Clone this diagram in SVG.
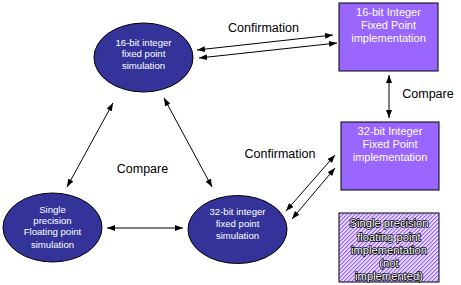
<svg xmlns="http://www.w3.org/2000/svg" width="461" height="285" viewBox="0 0 461 285">
<style>
.ell{fill:#333399;stroke:#000;stroke-width:1}
.box{fill:#9966ff;stroke:#000;stroke-width:1}
.et{font-family:"Liberation Sans",Arial,sans-serif;font-size:9.6px;fill:#fff;text-anchor:middle}
.bt{font-family:"Liberation Sans",Arial,sans-serif;font-size:11px;fill:#fff;text-anchor:middle}
.ht{font-family:"Liberation Sans",Arial,sans-serif;font-size:11.2px;fill:#fff;stroke:#000;stroke-width:1.6;stroke-linejoin:round;paint-order:stroke;text-anchor:middle}
.lbl{font-family:"Liberation Sans",Arial,sans-serif;font-size:12.5px;fill:#000;text-anchor:middle}
.conn line{stroke:#000;stroke-width:1;marker-start:url(#ah);marker-end:url(#ah)}
</style>
<defs>
<marker id="ah" viewBox="0 0 8 6" refX="8" refY="3" markerWidth="8" markerHeight="6" markerUnits="userSpaceOnUse" orient="auto-start-reverse">
<path d="M0,0 L8,3 L0,6 Z" fill="#000"/>
</marker>
<pattern id="hatch" patternUnits="userSpaceOnUse" width="2.83" height="4" patternTransform="rotate(45)">
<rect width="2.83" height="4" fill="#fff"/>
<rect width="1.42" height="4" fill="#9966ff"/>
</pattern>
</defs>
<rect width="461" height="285" fill="#fff"/>
<g class="conn" id="connectors">
<line x1="197" y1="50" x2="333" y2="35"/>
<line x1="199" y1="58" x2="337" y2="43"/>
<line x1="389" y1="75" x2="389" y2="118"/>
<line x1="286" y1="211" x2="335" y2="155"/>
<line x1="292" y1="219" x2="335" y2="168"/>
<line x1="113" y1="103" x2="67" y2="187"/>
<line x1="164" y1="98" x2="212" y2="187"/>
<line x1="107" y1="228" x2="183" y2="228"/>
</g>
<g id="labels">
<text class="lbl" x="263.5" y="31.5">Confirmation</text>
<text class="lbl" x="428" y="98">Compare</text>
<text class="lbl" x="280" y="158">Confirmation</text>
<text class="lbl" x="142.5" y="172.5">Compare</text>
</g>
<g id="sim16">
<ellipse class="ell" cx="143.5" cy="57.5" rx="49.5" ry="34.5"/>
<text class="et" x="143.5" y="46">16-bit integer</text>
<text class="et" x="143.5" y="57">fixed point</text>
<text class="et" x="143.5" y="68.5">simulation</text>
</g>
<g id="simfloat">
<ellipse class="ell" cx="52.5" cy="227.5" rx="49.5" ry="34.5"/>
<text class="et" x="52.5" y="212.5">Single</text>
<text class="et" x="52.5" y="223.5">precision</text>
<text class="et" x="52.5" y="234.5">Floating point</text>
<text class="et" x="52.5" y="247.5">simulation</text>
</g>
<g id="sim32">
<ellipse class="ell" cx="237.5" cy="229.5" rx="49.5" ry="34"/>
<text class="et" x="237.5" y="214.5">32-bit integer</text>
<text class="et" x="237.5" y="226.5">fixed point</text>
<text class="et" x="237.5" y="238.5">simulation</text>
</g>
<g id="impl16">
<rect class="box" x="339" y="3" width="99" height="68"/>
<text class="bt" x="388.5" y="16">16-bit Integer</text>
<text class="bt" x="388.5" y="28.5">Fixed Point</text>
<text class="bt" x="388.5" y="42">implementation</text>
</g>
<g id="impl32">
<rect class="box" x="341" y="122" width="98" height="68"/>
<text class="bt" x="390" y="134.5">32-bit Integer</text>
<text class="bt" x="390" y="147.5">Fixed Point</text>
<text class="bt" x="390" y="161">implementation</text>
</g>
<g id="implfloat">
<rect x="339" y="213" width="100" height="69" fill="url(#hatch)" stroke="#000" stroke-width="1"/>
<text class="ht" x="389" y="227">Single precision</text>
<text class="ht" x="389" y="241">floating point</text>
<text class="ht" x="389" y="254">implementation</text>
<text class="ht" x="389" y="267">(not</text>
<text class="ht" x="389" y="280">implemented)</text>
</g>
</svg>
